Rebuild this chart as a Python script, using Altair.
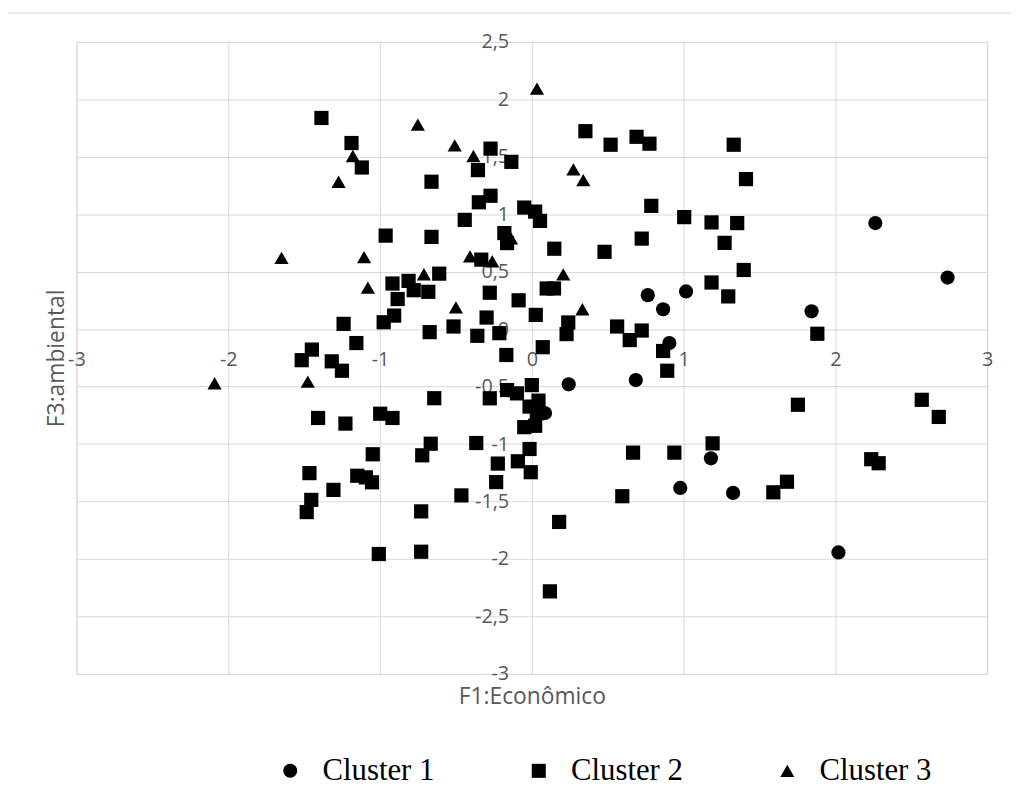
import altair as alt
import pandas as pd

# ---- data ----
c1_x = [2.263, 2.739, 0.764, 1.016, 0.865, 1.843, 0.906, 0.243, 0.685, 0.087, 1.18, 0.978, 1.326, 2.02]
c1_y = [0.923, 0.449, 0.296, 0.328, 0.173, 0.155, -0.121, -0.48, -0.443, -0.73, -1.124, -1.382, -1.425, -1.943]

c2_x = [-1.386, -1.188, -1.12, -0.661, -0.272, -0.135, -0.355, -0.272, -0.349, -0.05,
        0.022, 0.054, -0.442, -0.963, -0.661, -0.181, -0.163, -0.333, -0.61, -0.918,
        -0.812, -0.778, -0.884, -0.682, -0.277, -0.087, -0.298, -0.907, -0.976, -1.24,
        -0.673, -0.516, -0.359, -0.214, 0.026, -1.156, -1.449, -1.516, -1.318, -1.251,
        -0.168, 0.353, 0.519, 0.69, 0.775, 1.33, 1.411, 0.787, 1.004, 1.184,
        1.353, 1.27, 0.724, 0.479, 0.148, 1.396, 1.184, 1.294, 0.098, 0.146,
        0.24, 0.229, 0.562, 0.645, 0.724, 1.881, 0.865, 0.072, -0.643, -0.277,
        -0.163, -0.098, 0.0, 0.044, -0.015, 0.033, 0.022, -0.05, -1.408, -1.228,
        -0.999, -0.918, -1.048, -0.666, -0.722, -0.366, -0.224, -0.092, -0.015, -0.007,
        -1.465, -1.307, -1.15, -1.093, -1.053, -1.453, -1.483, -0.235, -0.464, -0.729,
        -0.729, -1.008, 0.892, 1.753, 2.569, 2.681, 1.191, 0.667, 0.939, 2.236,
        2.285, 1.681, 1.591, 0.596, 0.18, 0.119]
c2_y = [1.838, 1.62, 1.407, 1.283, 1.571, 1.456, 1.384, 1.161, 1.104, 1.058,
        1.023, 0.942, 0.951, 0.814, 0.803, 0.836, 0.749, 0.605, 0.483, 0.397,
        0.42, 0.339, 0.262, 0.325, 0.317, 0.251, 0.101, 0.118, 0.06, 0.046,
        -0.026, 0.023, -0.058, -0.035, 0.124, -0.121, -0.178, -0.27, -0.28, -0.362,
        -0.225, 1.723, 1.605, 1.674, 1.614, 1.605, 1.306, 1.073, 0.975, 0.929,
        0.923, 0.751, 0.788, 0.673, 0.7, 0.515, 0.406, 0.285, 0.354, 0.354,
        0.058, -0.043, 0.023, -0.095, -0.012, -0.04, -0.19, -0.157, -0.601, -0.602,
        -0.53, -0.559, -0.487, -0.622, -0.674, -0.732, -0.841, -0.853, -0.773, -0.822,
        -0.736, -0.773, -1.089, -0.997, -1.098, -0.991, -1.17, -1.15, -1.043, -1.245,
        -1.253, -1.399, -1.276, -1.29, -1.333, -1.486, -1.592, -1.331, -1.447, -1.586,
        -1.937, -1.957, -0.362, -0.658, -0.615, -0.764, -0.994, -1.075, -1.075, -1.132,
        -1.167, -1.328, -1.42, -1.454, -1.678, -2.282]

c3_x = [0.034, -0.751, -0.508, -0.385, -1.179, -1.273, 0.274, 0.339, -1.649, -1.105,
        -1.08, -0.711, -0.407, -0.261, -0.137, 0.207, 0.333, -0.5, -2.09, -1.476]
c3_y = [2.094, 1.78, 1.6, 1.507, 1.507, 1.283, 1.39, 1.297, 0.621, 0.627,
        0.362, 0.478, 0.634, 0.591, 0.79, 0.476, 0.173, 0.19, -0.471, -0.457]

clusters = ["Cluster 1", "Cluster 2", "Cluster 3"]
x_ticks = [-3, -2, -1, 0, 1, 2, 3]
y_ticks = [-3, -2.5, -2, -1.5, -1, -0.5, 0, 0.5, 1, 1.5, 2, 2.5]

rows = []
for name, xs, ys in [(clusters[0], c1_x, c1_y), (clusters[1], c2_x, c2_y), (clusters[2], c3_x, c3_y)]:
    for a, b in zip(xs, ys):
        rows.append({"F1": a, "F3": b, "cluster": name})
df = pd.DataFrame(rows)

GRID = "#d9d9d9"
TXT = "#595959"
FONT = "Open Sans"
label_expr = "replace(toString(datum.value), '.', ',')"

W, H = 918, 637

x_axis = alt.Axis(
    title="F1:Econômico", values=x_ticks, grid=True, gridColor=GRID, gridWidth=1,
    domain=False, ticks=False, tickSize=0, labelPadding=-316.7, labelBaseline="middle",
    labelAlign="center", labelExpr=label_expr, labelFont=FONT, labelFontSize=20,
    labelColor=TXT, labelOverlap=False, labelFlush=False, labelBound=False,
    titleFont=FONT, titleFontSize=23, titleColor=TXT, titleFontWeight="normal",
    titleX=W / 2, titleY=23, titleBaseline="middle", titleAlign="center",
)
y_axis = alt.Axis(
    title="F3:ambiental", values=y_ticks, grid=True, gridColor=GRID, gridWidth=1,
    domain=False, ticks=False, tickSize=0, labelPadding=-435.7, labelBaseline="middle",
    labelAlign="right", labelExpr=label_expr, labelFont=FONT, labelFontSize=20,
    labelColor=TXT, labelOverlap=False, labelFlush=False, labelBound=False,
    titleFont=FONT, titleFontSize=23, titleColor=TXT, titleFontWeight="normal",
    titleX=-20.5, titleY=H / 2, titleAngle=270, titleBaseline="middle", titleAlign="center",
)

points = alt.Chart(df).mark_point(
    filled=True, opacity=1, color="black", strokeWidth=0, size=205
).encode(
    x=alt.X("F1:Q", scale=alt.Scale(domain=[-3, 3], nice=False, zero=False), axis=x_axis),
    y=alt.Y("F3:Q", scale=alt.Scale(domain=[-3, 2.5], nice=False, zero=False), axis=y_axis),
    shape=alt.Shape(
        "cluster:N",
        scale=alt.Scale(domain=clusters, range=["circle", "square", "triangle-up"]),
        legend=alt.Legend(
            title=None, orient="none", legendX=200, legendY=719, direction="horizontal",
            labelFont="Liberation Serif", labelFontSize=31, labelColor="black",
            symbolSize=200, symbolFillColor="black", symbolStrokeColor="black",
            symbolStrokeWidth=0, symbolOpacity=1, labelOffset=17, columnPadding=89.5, padding=0,
        ),
    ),
)

border = alt.Chart(pd.DataFrame({"k": [0]})).mark_rect(
    fill="transparent", stroke=GRID, strokeWidth=1
).encode(
    x=alt.value(-69.5), x2=alt.value(1200), y=alt.value(-29), y2=alt.value(1200)
)

chart = alt.layer(border, points).properties(
    width=W, height=H,
    padding={"left": 69, "top": 31, "right": 24, "bottom": 126},
    autosize=alt.AutoSizeParams(type="none"),
).configure_view(stroke=GRID)

chart.save("out.html", embed_options={"renderer": "svg", "actions": False})
